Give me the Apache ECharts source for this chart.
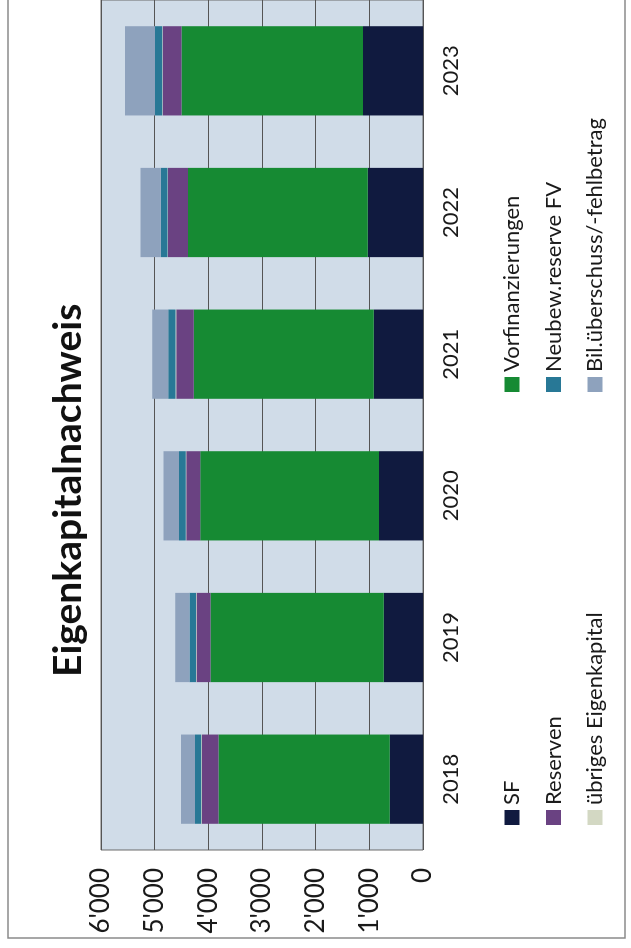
<!DOCTYPE html>
<html>
<head>
<meta charset="utf-8">
<script src="https://cdn.jsdelivr.net/npm/echarts@6/dist/echarts.min.js"></script>
<style>
  html, body { margin: 0; padding: 0; background: #ffffff; }
  #page { position: absolute; left: 0; top: 0; width: 631px; height: 948px; overflow: hidden; background: #ffffff; }
  /* the chart is laid out in landscape and turned a quarter turn counter-clockwise */
  #chart { position: absolute; left: 0; top: 0; width: 948px; height: 631px;
           transform-origin: 0 0; transform: translate(0px, 948px) rotate(-90deg); }
</style>
</head>
<body>
<div id="page"><div id="chart"></div></div>
<script>
// Eigenkapitalnachweis, Werte in TCHF
const years = ['2018', '2019', '2020', '2021', '2022', '2023'];

const sf                = [620, 730, 820, 920, 1030, 1120];
const vorfinanzierungen = [3190, 3230, 3330, 3350, 3350, 3380];
const reserven          = [310, 260, 260, 330, 370, 350];
const uebrigesEK        = [10, 10, 10, 10, 10, 10];
const neubewReserve     = [120, 120, 125, 135, 125, 135];
const bilanzErgebnis    = [260, 265, 290, 300, 380, 560];

const valueTicks = [0, 1000, 2000, 3000, 4000, 5000, 6000];

const seriesDefs = [
  { name: 'SF',                          data: sf,                color: '#101a3f' },
  { name: 'Vorfinanzierungen',           data: vorfinanzierungen, color: '#168a33' },
  { name: 'Reserven',                    data: reserven,          color: '#6a4282' },
  { name: 'übriges Eigenkapital',        data: uebrigesEK,        color: '#d3d8c3' },
  { name: 'Neubew.reserve FV',           data: neubewReserve,     color: '#287896' },
  { name: 'Bil.überschuss/-fehlbetrag',  data: bilanzErgebnis,    color: '#8ea2bd' }
];

const fontFam = 'Lato, "Open Sans", sans-serif';

function swissThousands(v) {
  const s = String(Math.round(v));
  return s.replace(/\B(?=(\d{3})+(?!\d))/g, "'");
}

const chart = echarts.init(document.getElementById('chart'), null, { renderer: 'canvas' });

const legendCommon = {
  orient: 'vertical',
  icon: 'rect',
  itemWidth: 15,
  itemHeight: 15,
  itemGap: 15.5,
  textStyle: { fontFamily: fontFam, fontSize: 22, color: '#1a1a1a', lineHeight: 26 },
  selectedMode: false
};

chart.setOption({
  animation: false,
  backgroundColor: '#ffffff',
  title: {
    text: 'Eigenkapitalnachweis',
    left: 266,
    top: 44,
    textStyle: { fontFamily: fontFam, fontSize: 39, fontWeight: 'bold', color: '#111111' }
  },
  graphic: [
    {
      type: 'rect',
      shape: { x: 10, y: 8, width: 960, height: 617 },
      style: { fill: 'none', stroke: '#8a8a8a', lineWidth: 1.5 },
      silent: true,
      z: -1
    }
  ],
  legend: [
    Object.assign({}, legendCommon, {
      left: 118, top: 494,
      data: ['SF', 'Reserven', 'übriges Eigenkapital']
    }),
    Object.assign({}, legendCommon, {
      left: 551, top: 494,
      data: ['Vorfinanzierungen', 'Neubew.reserve FV', 'Bil.überschuss/-fehlbetrag']
    })
  ],
  grid: {
    left: 98, right: 0, top: 101, bottom: 208,
    show: true,
    backgroundColor: '#d0dce8',
    borderColor: '#6a6a6a',
    borderWidth: 1
  },
  xAxis: {
    type: 'category',
    data: years,
    axisLine: { show: false },
    axisTick: { show: false },
    axisLabel: { fontFamily: fontFam, fontSize: 22, color: '#1a1a1a', margin: 17 }
  },
  yAxis: {
    type: 'value',
    min: valueTicks[0],
    max: valueTicks[valueTicks.length - 1],
    interval: 1000,
    axisLine: { show: false },
    axisTick: { show: false },
    splitLine: { lineStyle: { color: '#555555', width: 1 } },
    axisLabel: { fontFamily: fontFam, fontSize: 26, color: '#1a1a1a', margin: 18, formatter: swissThousands }
  },
  series: seriesDefs.map(d => ({
    name: d.name,
    type: 'bar',
    stack: 'ek',
    data: d.data,
    barCategoryGap: '37%',
    itemStyle: { color: d.color },
    emphasis: { disabled: true }
  }))
});
</script>
</body>
</html>
